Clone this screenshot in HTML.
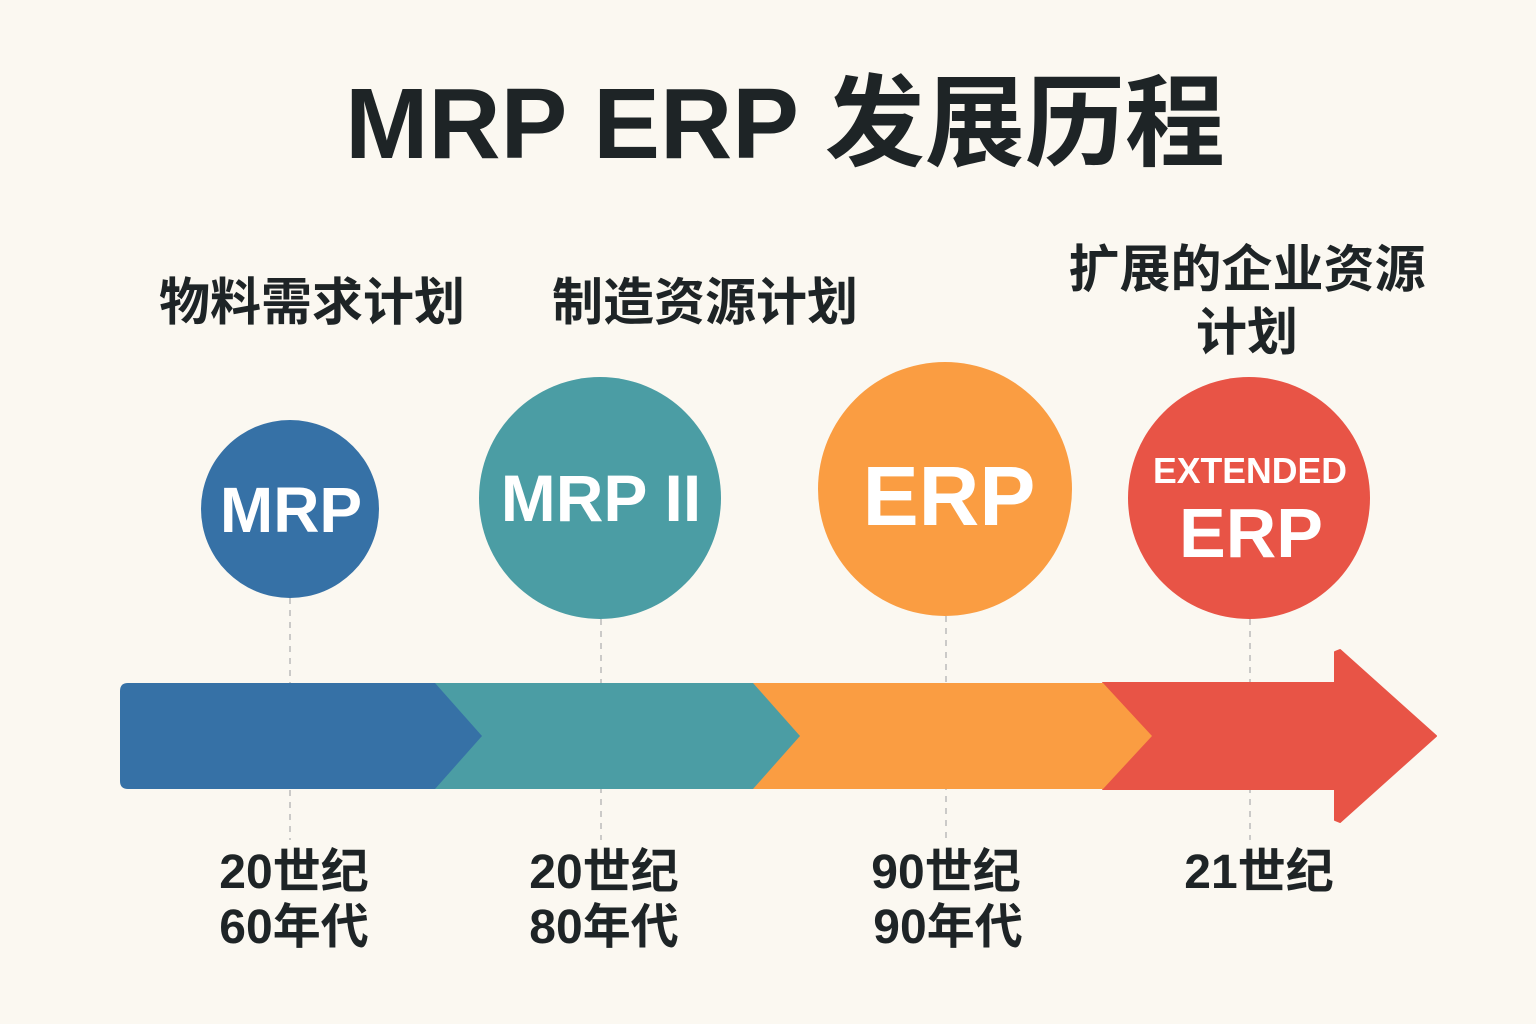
<!DOCTYPE html>
<html><head><meta charset="utf-8"><style>
body{margin:0;width:1536px;height:1024px;background:#fbf8f1;overflow:hidden;font-family:"Liberation Sans","Noto Sans CJK SC",sans-serif;}
</style></head><body>
<svg width="1536" height="1024" xmlns="http://www.w3.org/2000/svg" style="position:absolute;left:0;top:0">
<g stroke="#bbb" stroke-width="1.5" stroke-dasharray="6,6">
<line x1="290" y1="598" x2="290" y2="840"/>
<line x1="601" y1="619" x2="601" y2="840"/>
<line x1="946" y1="616" x2="946" y2="840"/>
<line x1="1250" y1="619" x2="1250" y2="840"/>
</g>
<polygon points="1103,683 1335,683 1335,652 1340,650 1436,736 1340,822 1335,820 1335,789 1103,789 1150,736" fill="#e85446" stroke="#e85446" stroke-width="2" stroke-linejoin="round"/>
<polygon points="753,683 1103,683 1152,736 1103,789 753,789" fill="#fa9d42"/>
<polygon points="435,683 753,683 800,736 753,789 435,789" fill="#4b9da4"/>
<path d="M128,683 L435,683 L482,736 L435,789 L128,789 Q120,789 120,781 L120,691 Q120,683 128,683Z" fill="#3671a6"/>
<circle cx="290" cy="509" r="89" fill="#3671a6"/>
<circle cx="600" cy="498" r="121" fill="#4b9da4"/>
<circle cx="945" cy="489" r="127" fill="#fa9d42"/>
<circle cx="1249" cy="498" r="121" fill="#e85446"/>
<g font-family="Liberation Sans,sans-serif" font-weight="bold" fill="#fff" text-anchor="middle">
<text x="291" y="532" font-size="64">MRP</text>
<text x="601" y="521" font-size="66">MRP II</text>
<text x="949" y="525" font-size="84">ERP</text>
<text x="1250" y="483" font-size="36" textLength="194" lengthAdjust="spacingAndGlyphs">EXTENDED</text>
<text x="1251" y="557" font-size="70">ERP</text>
</g>
<g font-family="Liberation Sans,Noto Sans CJK SC,sans-serif" font-weight="bold" fill="#1e2426" text-anchor="middle">
<text x="785" y="158" font-size="100">MRP ERP 发展历程</text>
<text x="312" y="320" font-size="51">物料需求计划</text>
<text x="705" y="320" font-size="51">制造资源计划</text>
<text x="1247" y="287" font-size="51">扩展的企业资源</text>
<text x="1247" y="350" font-size="51">计划</text>
<text x="294" y="888" font-size="48">20世纪</text>
<text x="294" y="943" font-size="48">60年代</text>
<text x="604" y="888" font-size="48">20世纪</text>
<text x="604" y="943" font-size="48">80年代</text>
<text x="946" y="888" font-size="48">90世纪</text>
<text x="948" y="943" font-size="48">90年代</text>
<text x="1259" y="888" font-size="48">21世纪</text>
</g>
</svg>
</body></html>
